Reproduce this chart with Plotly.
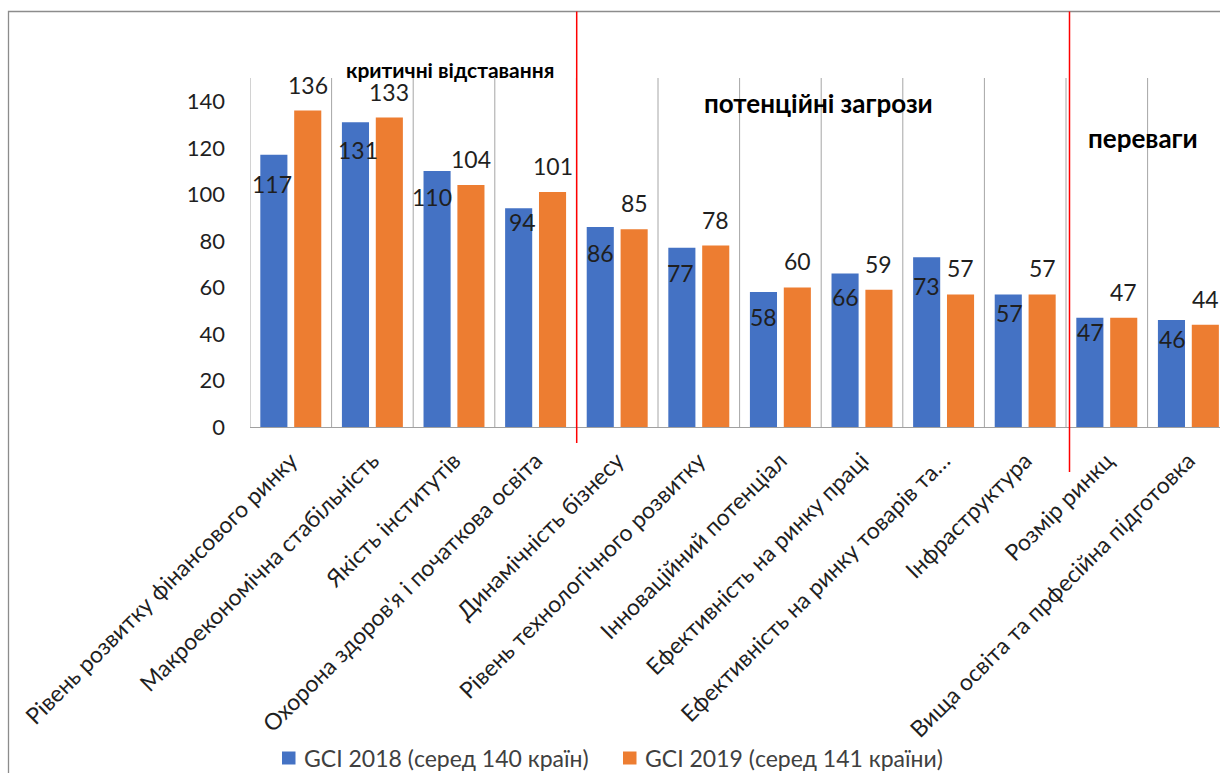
import plotly.graph_objects as go

# ---- data -------------------------------------------------------------
categories = [
    "Рівень розвитку фінансового ринку",
    "Макроекономічна стабільність",
    "Якість інститутів",
    "Охорона здоров'я і початкова освіта",
    "Динамічність бізнесу",
    "Рівень технологічного розвитку",
    "Інноваційний потенціал",
    "Ефективність на ринку праці",
    "Ефективність на ринку товарів та…",
    "Інфраструктура",
    "Розмір ринкц",
    "Вища освіта та прфесійна підготовка",
]
gci_2018 = [117, 131, 110, 94, 86, 77, 58, 66, 73, 57, 47, 46]
gci_2019 = [136, 133, 104, 101, 85, 78, 60, 59, 57, 57, 47, 44]
series_names = ["GCI 2018 (серед 140 країн)", "GCI 2019 (серед 141 країни)"]
y_ticks = [0, 20, 40, 60, 80, 100, 120, 140]

zones = ["критичні відставання", "потенційні загрози", "переваги"]

# ---- styling ----------------------------------------------------------
FONT = "Lato"
BLUE = "#4472C4"
ORANGE = "#ED7D31"
TEXT = "#1f1f1f"
GRID = "#a6a6a6"

W, H = 1220, 773
PL, PT, PB = 250, 78, 427          # plot area left / top / bottom (px)
PW, PH = W - PL, PB - PT
CAT_W = 81.6                        # pixel width of one category
BARGAP, GROUPGAP = 0.17, 0.2
x_hi = -0.5 + PW / CAT_W

# pixel -> paper helpers for decorations outside the plot area
def px(x):
    return (x - PL) / PW

def py(y):
    return (PB - y) / PH

# label placement tweaks (pixels): 2018 labels sit inside the bar top
lbl18_dy = [-29, -28, -26, -14, -26, -25, -25, -24, -29, -19, -14, -19]
lbl18_dx = [-2, 3, -5, 4, 0, -1, 0, 0, 0, 1, 1, 1]
lbl19_dy = 26

fig = go.Figure()
fig.add_trace(go.Bar(x=list(range(len(categories))), y=gci_2018, name=series_names[0],
                     marker=dict(color=BLUE, line=dict(width=0)), showlegend=False))
fig.add_trace(go.Bar(x=list(range(len(categories))), y=gci_2019, name=series_names[1],
                     marker=dict(color=ORANGE, line=dict(width=0)), showlegend=False))

annotations = []
half = (1 - BARGAP) / 4
for i, (a, b) in enumerate(zip(gci_2018, gci_2019)):
    annotations.append(dict(x=i - half, y=a, xref="x", yref="y", text=str(a),
                            showarrow=False, xanchor="center", yanchor="middle",
                            xshift=lbl18_dx[i], yshift=lbl18_dy[i],
                            font=dict(family=FONT, size=23, color=TEXT)))
    annotations.append(dict(x=i + half, y=b, xref="x", yref="y", text=str(b),
                            showarrow=False, xanchor="center", yanchor="middle",
                            yshift=lbl19_dy,
                            font=dict(family=FONT, size=23, color=TEXT)))

# zone headings
zone_pos = [(450, 69, 21), (818, 103, 26), (1143, 138, 26)]
for name, (zx, zy, fs) in zip(zones, zone_pos):
    annotations.append(dict(x=px(zx), y=py(zy), xref="paper", yref="paper",
                            text=f"<b>{name}</b>", showarrow=False,
                            xanchor="center", yanchor="middle",
                            font=dict(family=FONT, size=fs, color="#000000")))

# legend drawn by hand: square + caption
shapes = []
legend_items = [(282, 301.7, BLUE), (623, 643.3, ORANGE)]
for name, (sx, tx, col) in zip(series_names, legend_items):
    shapes.append(dict(type="rect", xref="paper", yref="paper",
                       x0=px(sx), x1=px(sx + 13.5), y0=py(764.5), y1=py(751.5),
                       fillcolor=col, line=dict(width=0)))
    annotations.append(dict(x=px(tx), y=py(758), xref="paper", yref="paper",
                            text=name, showarrow=False, xanchor="left", yanchor="middle",
                            font=dict(family=FONT, size=23, color="#404040")))

# outer chart frame (left and top edges)
shapes.append(dict(type="path", xref="paper", yref="paper",
                   path=f"M {px(8.5)},{py(780)} L {px(8.5)},{py(11.5)} L {px(1230)},{py(11.5)}",
                   line=dict(color="#8c8c8c", width=1.3)))

# red zone dividers
for xline, ybot in [(576.7, 443), (1069.5, 472)]:
    shapes.append(dict(type="line", xref="paper", yref="paper",
                       x0=px(xline), x1=px(xline), y0=py(11.5), y1=py(ybot),
                       line=dict(color="#ff0000", width=1.5)))

fig.update_layout(
    width=W, height=H,
    margin=dict(l=PL, r=0, t=PT, b=H - PB, pad=0),
    paper_bgcolor="white", plot_bgcolor="white",
    barmode="group", bargap=BARGAP, bargroupgap=GROUPGAP,
    font=dict(family=FONT, size=22, color=TEXT),
    annotations=annotations, shapes=shapes,
    xaxis=dict(
        type="linear", range=[-0.5, x_hi],
        tickmode="array", tickvals=list(range(len(categories))), ticktext=categories,
        tickangle=-45, ticks="", showgrid=False, ticklabelstandoff=10,
        showline=True, linecolor="#a0a0a0", linewidth=1.3,
        zeroline=False, tickfont=dict(family=FONT, size=23, color=TEXT),
    ),
    yaxis=dict(
        range=[0, 150], tickmode="array", tickvals=y_ticks,
        showgrid=False, zeroline=False, showline=False, ticks="",
        ticklabelstandoff=24, tickfont=dict(family=FONT, size=22, color=TEXT),
    ),
)

# category boundary separators
for k in range(len(categories)):
    fig.add_shape(type="line", xref="x", yref="paper", x0=k - 0.5, x1=k - 0.5,
                  y0=0, y1=1, line=dict(color=GRID, width=1), layer="below")

fig.write_html("out.html")
